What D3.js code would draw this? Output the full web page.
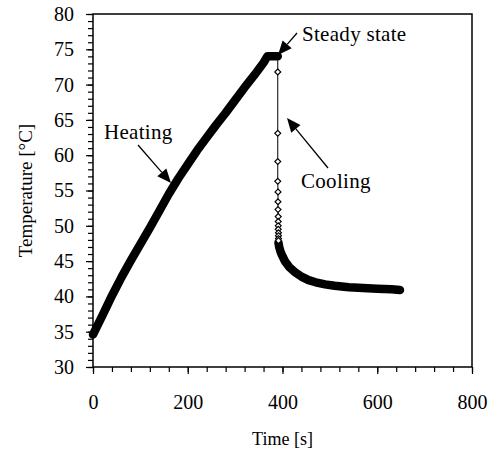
<!DOCTYPE html>
<html>
<head>
<meta charset="utf-8">
<script src="https://cdn.jsdelivr.net/npm/d3@7"></script>
<style>
  body { margin: 0; background: #fff; }
  svg text { font-family: "Times New Roman", "Liberation Serif", serif !important; fill: #000; }
</style>
</head>
<body>
<svg id="chart" width="493" height="459"></svg>
<script>
// heating + steady state (dense markers, reads as a solid band)
const heatTime = [0, 20, 40, 60, 80, 100, 120, 140, 160, 180, 200, 220, 240, 260, 280, 300, 320, 340, 360, 368, 380, 390];
const heatTemp = [34.6, 37.3, 40.1, 42.7, 45.1, 47.4, 49.7, 52.1, 54.5, 56.7, 58.7, 60.7, 62.5, 64.3, 66.0, 67.8, 69.6, 71.3, 73.1, 74.0, 74.0, 74.0];
// sudden drop (individual markers)
const dropTime = [390, 390, 390, 390, 390.5, 390.5, 390.5, 391, 391, 391, 391, 391.5, 391.5, 391.5, 391.5];
const dropTemp = [71.8, 63.1, 59.1, 56.3, 54.8, 53.4, 52.3, 51.3, 50.6, 50.0, 49.5, 49.0, 48.6, 48.2, 47.9];
// slow cooling tail (dense markers)
const tailTime = [391.5, 393, 396, 400, 405, 415, 425, 440, 455, 470, 490, 510, 540, 570, 600, 630, 648];
const tailTemp = [47.6, 47.0, 46.3, 45.7, 45.0, 44.1, 43.5, 42.8, 42.3, 42.0, 41.7, 41.5, 41.3, 41.2, 41.1, 41.0, 40.9];

const xTicks = [0, 200, 400, 600, 800];
const yTicks = [30, 35, 40, 45, 50, 55, 60, 65, 70, 75, 80];

const margin = {left: 93, top: 14, right: 21, bottom: 92};
const width = 493 - margin.left - margin.right;
const height = 459 - margin.top - margin.bottom;
const serif = '"Times New Roman", "Liberation Serif", serif';

const svg = d3.select("#chart");
const g = svg.append("g").attr("transform", `translate(${margin.left},${margin.top})`);

const x = d3.scaleLinear().domain([0, 800]).range([0, width]);
const y = d3.scaleLinear().domain([30, 80]).range([height, 0]);

// minor ticks
g.append("g")
    .attr("transform", `translate(0,${height})`)
    .call(d3.axisBottom(x).tickValues(d3.range(0, 801, 40)).tickSize(5).tickFormat(""))
    .call(a => a.select(".domain").remove());
g.append("g")
    .call(d3.axisLeft(y).tickValues(d3.range(30, 81, 1)).tickSize(5).tickFormat(""))
    .call(a => a.select(".domain").remove());

// major ticks + labels
const xAxis = g.append("g")
    .attr("transform", `translate(0,${height})`)
    .call(d3.axisBottom(x).tickValues(xTicks).tickSize(7).tickPadding(21).tickFormat(d3.format("d")));
xAxis.attr("font-family", serif);
xAxis.select(".domain").remove();
xAxis.selectAll("text").attr("font-size", 20).style("font-family", serif);

const yAxis = g.append("g")
    .call(d3.axisLeft(y).tickValues(yTicks).tickSize(7).tickPadding(12).tickFormat(d3.format("d")));
yAxis.attr("font-family", serif);
yAxis.select(".domain").remove();
yAxis.selectAll("text").attr("font-size", 20).style("font-family", serif);

g.selectAll(".tick line").attr("stroke", "#000").attr("stroke-width", 1.2);

// frame
g.append("rect")
    .attr("width", width).attr("height", height)
    .attr("fill", "none").attr("stroke", "#000").attr("stroke-width", 1.5);

// axis titles
svg.append("text")
    .attr("x", margin.left + width / 2).attr("y", 445)
    .attr("text-anchor", "middle").attr("font-size", 18)
    .text("Time [s]");
svg.append("text")
    .attr("transform", `translate(32,${margin.top + height / 2}) rotate(-90)`)
    .attr("text-anchor", "middle").attr("font-size", 19)
    .text("Temperature [\u00B0C]");

// series
const line = d3.line().x(d => x(d[0])).y(d => y(d[1]));
const heat = heatTime.map((t, i) => [t, heatTemp[i]]);
const drop = dropTime.map((t, i) => [t, dropTemp[i]]);
const tail = tailTime.map((t, i) => [t, tailTemp[i]]);
const all = heat.concat(drop, tail);

g.append("path").datum(all)
    .attr("d", line).attr("fill", "none").attr("stroke", "#000").attr("stroke-width", 1);

[heat, tail].forEach(seg => {
    g.append("path").datum(seg)
        .attr("d", line).attr("fill", "none").attr("stroke", "#000")
        .attr("stroke-width", 8.5).attr("stroke-linejoin", "round").attr("stroke-linecap", "round");
});

const diamond = d3.symbol().type(d3.symbolDiamond2).size(22);
g.selectAll(".mk").data(drop).enter().append("path")
    .attr("class", "mk")
    .attr("transform", d => `translate(${x(d[0])},${y(d[1])})`)
    .attr("d", diamond)
    .attr("fill", "#fff").attr("stroke", "#000").attr("stroke-width", 1.2);

// annotations
const notes = [
    {text: "Heating", tx: 104, ty: 139, from: [138, 145], to: [171, 183]},
    {text: "Steady state", tx: 302, ty: 41, from: [297, 33], to: [278, 55]},
    {text: "Cooling", tx: 301, ty: 188, from: [328, 168], to: [287, 118]}
];

function arrow(from, to, len, wid) {
    const dx = to[0] - from[0], dy = to[1] - from[1];
    const L = Math.hypot(dx, dy);
    const ux = dx / L, uy = dy / L;
    const bx = to[0] - ux * len, by = to[1] - uy * len;
    const head = [[to[0], to[1]], [bx - uy * wid / 2, by + ux * wid / 2], [bx + uy * wid / 2, by - ux * wid / 2]];
    svg.append("line")
        .attr("x1", from[0]).attr("y1", from[1]).attr("x2", bx).attr("y2", by)
        .attr("stroke", "#000").attr("stroke-width", 1.3);
    svg.append("path")
        .attr("d", "M" + head.join("L") + "Z").attr("fill", "#000");
}

notes.forEach(n => {
    svg.append("text").attr("x", n.tx).attr("y", n.ty).attr("font-size", 21)
        .attr("letter-spacing", 0.3).text(n.text);
    arrow(n.from, n.to, 14, 12);
});
</script>
</body>
</html>
